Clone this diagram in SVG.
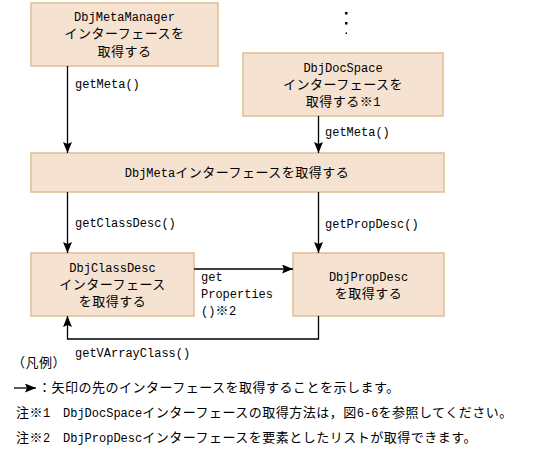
<svg xmlns="http://www.w3.org/2000/svg" width="547" height="454" viewBox="0 0 547 454">
<defs>
<style>
.box{fill:#F6E2D0;stroke:#E0BC94;stroke-width:1.5}
text{font-family:"Liberation Mono","Noto Sans CJK JP",monospace;font-size:13px;letter-spacing:0.5px;fill:#000}
.L{font-size:12px;letter-spacing:0}
.c{text-anchor:middle}
.ln{fill:none;stroke:#000;stroke-width:1.3}
</style>
<marker id="ah" markerUnits="userSpaceOnUse" markerWidth="12" markerHeight="10" refX="11" refY="4.5" orient="auto">
<path d="M0,0 L11,4.5 L0,9 L2,4.5 z" fill="#000"/>
</marker>
</defs>
<rect width="547" height="454" fill="#fff"/>

<g id="dots" fill="#000">
<rect x="345" y="12" width="2.5" height="2.5"/>
<rect x="345" y="22" width="2.5" height="2.5"/>
<rect x="345.5" y="32.5" width="1.5" height="1.5"/>
</g>

<g id="n-metamanager">
<rect class="box" x="31" y="3" width="187" height="63"/>
<text class="c L" x="124.5" y="21">DbjMetaManager</text>
<text class="c" x="124.5" y="38">インターフェースを</text>
<text class="c" x="124.5" y="56">取得する</text>
</g>

<g id="n-docspace">
<rect class="box" x="243" y="53" width="200" height="63"/>
<text class="c L" x="343" y="72">DbjDocSpace</text>
<text class="c" x="343" y="89">インターフェースを</text>
<text class="c" x="343" y="106">取得する※<tspan class="L">1</tspan></text>
</g>

<g id="n-meta">
<rect class="box" x="31" y="153" width="413" height="39"/>
<text class="c" x="237" y="177"><tspan class="L">DbjMeta</tspan>インターフェースを取得する</text>
</g>

<g id="n-classdesc">
<rect class="box" x="31" y="253" width="163" height="63"/>
<text class="c L" x="112.5" y="272">DbjClassDesc</text>
<text class="c" x="112.5" y="289">インターフェース</text>
<text class="c" x="112.5" y="306">を取得する</text>
</g>

<g id="n-propdesc">
<rect class="box" x="293" y="253" width="151" height="63"/>
<text class="c L" x="368.5" y="281">DbjPropDesc</text>
<text class="c" x="368.5" y="298">を取得する</text>
</g>

<g id="connectors">
<line class="ln" x1="67.5" y1="66" x2="67.5" y2="153" marker-end="url(#ah)"/>
<line class="ln" x1="318.5" y1="116" x2="318.5" y2="153" marker-end="url(#ah)"/>
<line class="ln" x1="67.5" y1="192" x2="67.5" y2="253" marker-end="url(#ah)"/>
<line class="ln" x1="318.5" y1="192" x2="318.5" y2="253" marker-end="url(#ah)"/>
<line class="ln" x1="194" y1="269" x2="293" y2="269" marker-end="url(#ah)"/>
<polyline class="ln" points="318.5,316 318.5,339 67.5,339 67.5,316" marker-end="url(#ah)"/>
<text class="L" x="75" y="88">getMeta()</text>
<text class="L" x="325" y="136">getMeta()</text>
<text class="L" x="75" y="227">getClassDesc()</text>
<text class="L" x="325" y="228">getPropDesc()</text>
<text class="L" x="201" y="281">get</text>
<text class="L" x="201" y="298">Properties</text>
<text x="201" y="315"><tspan class="L">()</tspan>※<tspan class="L">2</tspan></text>
<text class="L" x="75" y="357">getVArrayClass()</text>
</g>

<g id="legend">
<text x="12" y="367">（凡例）</text>
<line class="ln" x1="14" y1="388" x2="36" y2="388" marker-end="url(#ah)"/>
<text x="38" y="392">：矢印の先のインターフェースを取得することを示します。</text>
<text x="16" y="417">注※<tspan class="L">1</tspan></text>
<text x="63" y="417"><tspan class="L">DbjDocSpace</tspan>インターフェースの取得方法は，図<tspan class="L">6-6</tspan>を参照してください。</text>
<text x="16" y="442">注※<tspan class="L">2</tspan></text>
<text x="63" y="442"><tspan class="L">DbjPropDesc</tspan>インターフェースを要素としたリストが取得できます。</text>
</g>
</svg>
